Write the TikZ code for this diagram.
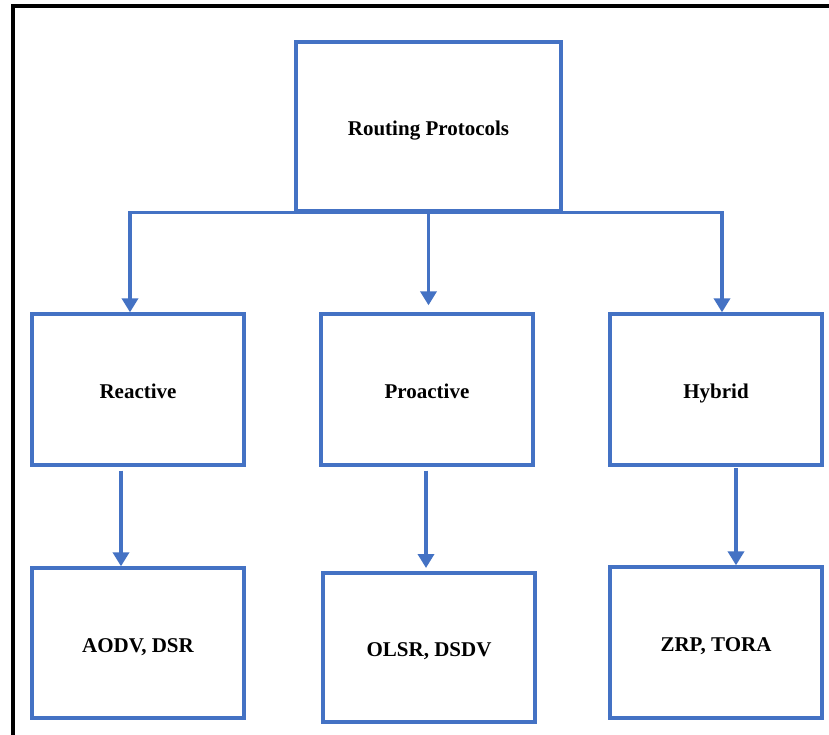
\documentclass[tikz,border=0pt]{standalone}
\usepackage{fontspec}
\setmainfont{Liberation Serif}
\usetikzlibrary{arrows.meta}
\definecolor{boxblue}{HTML}{4472C4}
\begin{document}
\begin{tikzpicture}[x=0.75pt,y=-0.75pt,
  pbox/.style={draw=boxblue,line width=2.5pt,fill=white,inner sep=0pt,
    text height=13.5pt,text depth=0pt,
    font=\fontsize{15.75}{18}\selectfont\bfseries},
  topbox/.style={pbox,minimum width=198.75pt,minimum height=126.75pt},
  midbox/.style={pbox,minimum width=159pt,minimum height=113.25pt},
  lowbox/.style={pbox,minimum width=159pt,minimum height=112.5pt},
  arr/.style={draw=boxblue,line width=2.6pt,-{Triangle[length=10.5pt,width=12pt]}},
  frame/.style={draw=black,line width=3pt,line join=miter}]
\useasboundingbox (0,0) rectangle (829,735);
\fill[white] (0,0) rectangle (829,735);
\draw[frame] (12.5,740) -- (12.5,6) -- (835,6);

\node[topbox] (rp) at (428.5,126.5) {Routing Protocols};
\node[midbox] (rea) at (138,389.5) {Reactive};
\node[midbox] (pro) at (427,389.5) {Proactive};
\node[midbox] (hyb) at (716,389.5) {Hybrid};
\node[lowbox] (aodv) at (138,643) {AODV, DSR};
\node[lowbox,minimum height=111.75pt] (olsr) at (429,647.5) {OLSR, DSDV};
\node[lowbox,minimum height=113.25pt] (zrp) at (716,642.5) {ZRP, TORA};

\draw[arr] (rp.south) -| ([xshift=-6pt]rea.north);
\draw[arr] (rp.south) -| ([xshift=4.5pt]hyb.north);
\draw[arr] (rp.south) -- ([yshift=5.25pt]rp.south |- pro.north);

\draw[arr] ([xshift=-12.75pt,yshift=-3pt]rea.south) -- ([xshift=-12.75pt]aodv.north);
\draw[arr] ([xshift=-0.75pt,yshift=-3pt]pro.south) -- ([xshift=-0.75pt,yshift=2.5pt]pro.south |- olsr.north);
\draw[arr] ([xshift=15pt,yshift=-1pt]hyb.south) -- ([xshift=15pt]hyb.south |- zrp.north);
\end{tikzpicture}
\end{document}
